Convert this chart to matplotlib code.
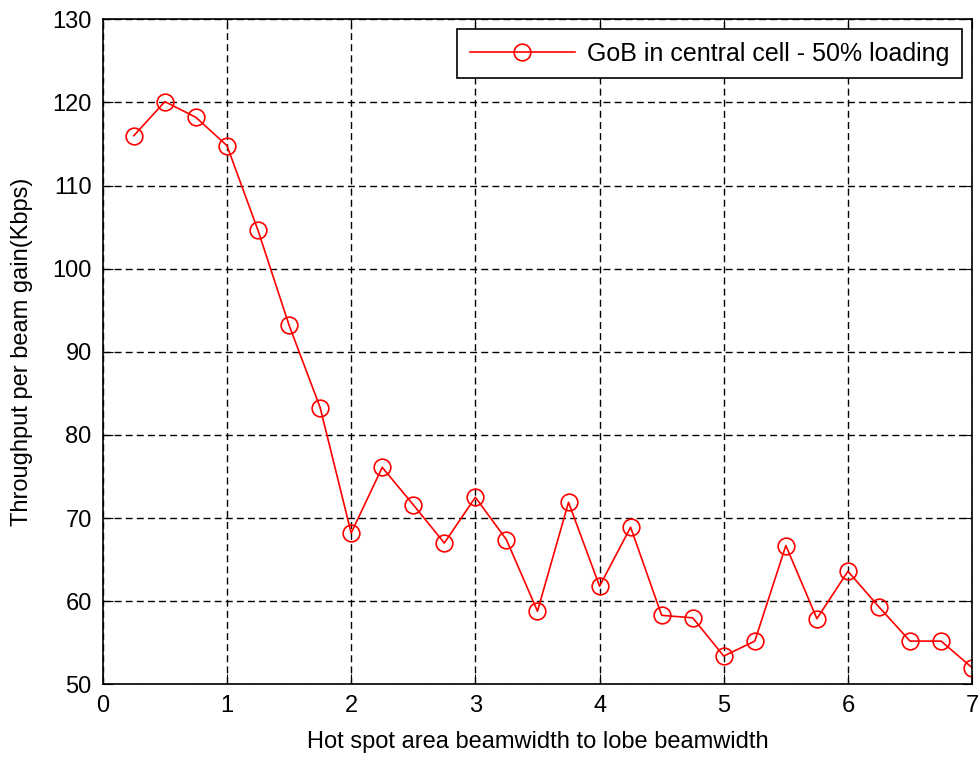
import matplotlib
matplotlib.use('Agg')
import matplotlib.pyplot as plt

# ratio hot spot beamwidth / lobe beamwidth
ratio = [0.25, 0.5, 0.75, 1.0, 1.25, 1.5, 1.75, 2.0, 2.25, 2.5, 2.75, 3.0, 3.25, 3.5,
         3.75, 4.0, 4.25, 4.5, 4.75, 5.0, 5.25, 5.5, 5.75, 6.0, 6.25, 6.5, 6.75, 7.0]
# throughput per beam gain (Kbps)
gain = [116.0, 120.1, 118.2, 114.8, 104.6, 93.2, 83.3, 68.2, 76.1, 71.6, 67.0, 72.5,
        67.4, 58.8, 71.9, 61.8, 68.9, 58.3, 58.0, 53.4, 55.2, 66.7, 57.9, 63.6,
        59.3, 55.2, 55.2, 52.0]
xticks = [0, 1, 2, 3, 4, 5, 6, 7]
yticks = [50, 60, 70, 80, 90, 100, 110, 120, 130]
label = 'GoB in central cell - 50% loading'

plt.rcParams['font.family'] = ['Liberation Sans', 'DejaVu Sans']

fig = plt.figure(figsize=(9.79, 7.57), dpi=100)
ax = fig.add_axes([0.105, 0.096, 0.888, 0.8785])

ax.plot(ratio, gain, color='red', linewidth=1.2, marker='o', markersize=12,
        markerfacecolor='none', markeredgecolor='red', markeredgewidth=1.2,
        label=label)

ax.set_xlim(0, 7)
ax.set_ylim(50, 130)
ax.set_xticks(xticks)
ax.set_yticks(yticks)
ax.grid(True, color='black', linestyle=(0, (5, 3)), linewidth=1.0)
ax.tick_params(direction='in', top=True, right=True, length=7, labelsize=17, pad=8)
for s in ax.spines.values():
    s.set_linewidth(1.2)

ax.set_xlabel('Hot spot area beamwidth to lobe beamwidth', fontsize=17, labelpad=10)
ax.set_ylabel('Throughput per beam gain(Kbps)', fontsize=17, labelpad=14)

# legend box sits just under the top-right corner, like the original
leg = ax.legend(loc='upper right', fontsize=18, fancybox=False, framealpha=1,
                edgecolor='black', borderaxespad=0.4, handlelength=4.2,
                borderpad=0.5, handletextpad=0.5)
leg.get_frame().set_linewidth(1.2)

fig.savefig('out.png', dpi=100)
